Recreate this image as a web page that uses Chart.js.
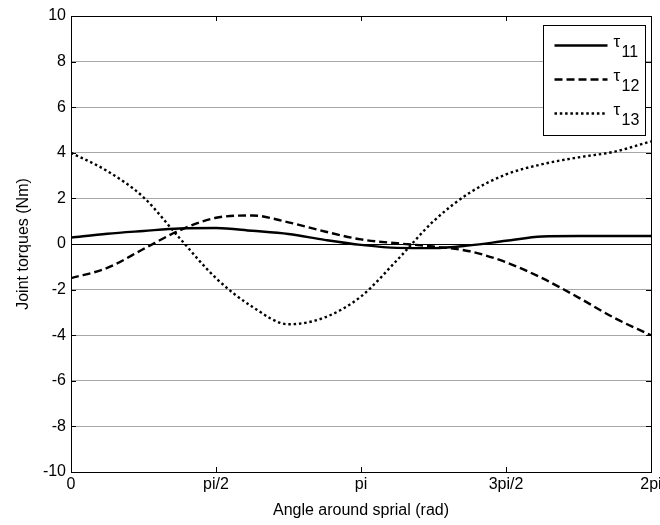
<!DOCTYPE html>
<html>
<head>
<meta charset="utf-8">
<script src="https://cdn.jsdelivr.net/npm/chart.js@4/dist/chart.umd.min.js"></script>
<style>
  html, body { margin: 0; padding: 0; background: #fff; }
  #wrap { width: 660px; height: 525px; }
</style>
</head>
<body>
<div id="wrap"><canvas id="grafico" width="660" height="525"></canvas></div>
<script>
// angle around the spiral (rad), every pi/8
var angulos = [0, 0.393, 0.785, 1.178, 1.571, 1.963, 2.356, 2.749, 3.142, 3.534, 3.927, 4.320, 4.712, 5.105, 5.498, 5.890, 6.283];
var tau11 = [0.28, 0.45, 0.57, 0.68, 0.70, 0.58, 0.44, 0.18, -0.04, -0.17, -0.18, -0.06, 0.14, 0.33, 0.35, 0.35, 0.35];
var tau12 = [-1.5, -1.05, -0.22, 0.6, 1.15, 1.25, 0.95, 0.55, 0.2, 0.03, -0.11, -0.32, -0.8, -1.5, -2.35, -3.25, -4.0];
var tau13 = [4.0, 3.2, 2.05, 0.25, -1.5, -2.75, -3.52, -3.22, -2.3, -0.7, 1.0, 2.25, 3.05, 3.5, 3.8, 4.05, 4.5];

var xTicks = [0, Math.PI / 2, Math.PI, 3 * Math.PI / 2, 2 * Math.PI];
var xTickLabels = ['0', 'pi/2', 'pi', '3pi/2', '2pi'];
var nombres = ['11', '12', '13'];

var fuente = '"Liberation Sans", Arial, sans-serif';

function puntos(valores){
    var out = [];
    for(var i = 0; i < angulos.length; i++){
        out.push({x: angulos[i], y: valores[i]});
    }
    return out;
}

function serie(valores, dash){
    return {
        data: puntos(valores),
        borderColor: '#000',
        borderWidth: 2.4,
        borderDash: dash,
        pointRadius: 0,
        fill: false,
        cubicInterpolationMode: 'monotone'
    };
}

// box, inside ticks and legend like matlab
var marco = {
    id: 'marco',
    afterDatasetsDraw: function(chart){
        var ctx = chart.ctx;
        var a = chart.chartArea;
        var xs = chart.scales.x, ys = chart.scales.y;
        ctx.save();
        ctx.strokeStyle = '#000';
        ctx.lineWidth = 1;
        ctx.setLineDash([]);
        ctx.strokeRect(Math.round(a.left) + 0.5, Math.round(a.top) + 0.5, Math.round(a.right - a.left), Math.round(a.bottom - a.top));
        ctx.beginPath();
        for(var i = 0; i < xTicks.length; i++){
            var px = Math.round(xs.getPixelForValue(xTicks[i])) + 0.5;
            ctx.moveTo(px, a.bottom); ctx.lineTo(px, a.bottom - 5);
            ctx.moveTo(px, a.top); ctx.lineTo(px, a.top + 5);
        }
        for(var v = -10; v <= 10; v += 2){
            var py = Math.round(ys.getPixelForValue(v)) + 0.5;
            ctx.moveTo(a.left, py); ctx.lineTo(a.left + 5, py);
            ctx.moveTo(a.right, py); ctx.lineTo(a.right - 5, py);
        }
        ctx.stroke();

        // legend
        var bx = Math.round(a.right) - 108 + 0.5, by = Math.round(a.top) + 9 + 0.5;
        ctx.fillStyle = '#fff';
        ctx.fillRect(bx, by, 102, 110);
        ctx.strokeRect(bx, by, 102, 110);
        var dashes = [[], [8, 4], [2.5, 2.8]];
        for(var j = 0; j < 3; j++){
            var ly = by + 20 + j * 34;
            ctx.beginPath();
            ctx.lineWidth = 2.4;
            ctx.setLineDash(dashes[j]);
            ctx.moveTo(bx + 11, ly); ctx.lineTo(bx + 64, ly);
            ctx.stroke();
            ctx.setLineDash([]);
            ctx.fillStyle = '#000';
            ctx.textBaseline = 'middle';
            ctx.textAlign = 'left';
            ctx.font = '17px ' + fuente;
            ctx.fillText('\u03c4', bx + 70, ly - 3);
            ctx.font = '16px ' + fuente;
            ctx.fillText(nombres[j], bx + 78, ly + 7);
        }
        ctx.restore();
    }
};

var grafico = new Chart(document.getElementById('grafico'), {
    type: 'line',
    data: {
        datasets: [serie(tau11, []), serie(tau12, [8, 4]), serie(tau13, [2.5, 2.8])]
    },
    plugins: [marco],
    options: {
        responsive: false,
        animation: false,
        layout: { padding: { left: 0, right: 9, top: 16, bottom: 0 } },
        plugins: {
            legend: { display: false },
            tooltip: { enabled: false }
        },
        scales: {
            x: {
                type: 'linear',
                min: 0,
                max: 2 * Math.PI,
                afterBuildTicks: function(scale){
                    scale.ticks = xTicks.map(function(v){ return {value: v}; });
                },
                afterFit: function(scale){
                    scale.height = 53;
                    scale.paddingRight = 0;
                    scale.paddingLeft = 0;
                },
                grid: { display: false, drawTicks: false },
                border: { display: false },
                ticks: {
                    color: '#000',
                    padding: 3,
                    maxRotation: 0,
                    autoSkip: false,
                    font: { family: fuente, size: 16 },
                    callback: function(value, index){ return xTickLabels[index]; }
                },
                title: {
                    display: true,
                    text: 'Angle around sprial (rad)',
                    color: '#000',
                    font: { family: fuente, size: 16 },
                    padding: { top: 0, bottom: 5 }
                }
            },
            y: {
                min: -10,
                max: 10,
                afterFit: function(scale){ scale.width = 71; },
                grid: {
                    drawTicks: false,
                    color: function(c){ return c.tick && c.tick.value === 0 ? '#000' : '#a8a8a8'; },
                    lineWidth: 1
                },
                border: { display: false },
                ticks: {
                    stepSize: 2,
                    color: '#000',
                    padding: 5,
                    font: { family: fuente, size: 16 }
                },
                title: {
                    display: true,
                    text: 'Joint torques (Nm)',
                    color: '#000',
                    font: { family: fuente, size: 16 },
                    padding: { top: 14, bottom: 0 }
                }
            }
        }
    }
});
</script>
</body>
</html>
